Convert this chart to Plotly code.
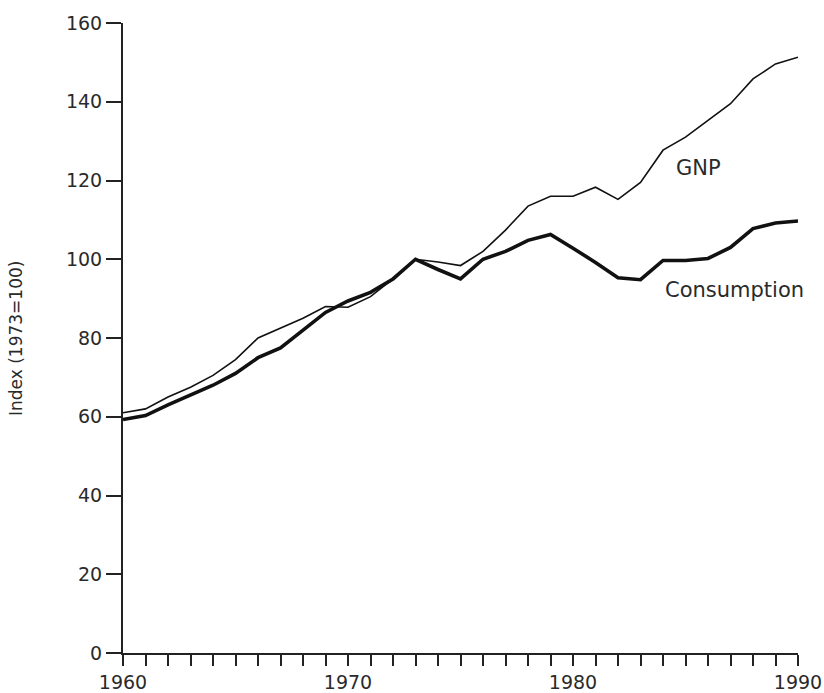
import plotly.graph_objects as go

years = list(range(1960, 1991))
gnp = [61, 62, 65, 67.5, 70.5, 74.5, 80, 82.5, 85, 88,
       87.8, 90.5, 95, 100, 99.3, 98.4, 102, 107.4, 113.5, 116,
       116, 118.3, 115.2, 119.5, 127.7, 131, 135.3, 139.5, 145.8, 149.6, 151.3]
consumption = [59.3, 60.3, 63, 65.5, 68, 71, 75, 77.5, 82, 86.5,
               89.4, 91.6, 95, 100, 97.4, 95, 100, 102, 104.8, 106.3,
               102.8, 99.2, 95.3, 94.8, 99.7, 99.7, 100.2, 103, 107.8, 109.2, 109.7]
y_ticks = [0, 20, 40, 60, 80, 100, 120, 140, 160]
x_label_years = [1960, 1970, 1980, 1990]
y_title = "Index (1973=100)"

FONT = "DejaVu Sans"
TXT = "#2a2a2a"

fig = go.Figure()
fig.add_trace(go.Scatter(x=years, y=gnp, mode="lines", name="GNP",
                         line=dict(color="#111111", width=1.6)))
fig.add_trace(go.Scatter(x=years, y=consumption, mode="lines", name="Consumption",
                         line=dict(color="#111111", width=3.6)))

fig.add_annotation(x=1985.56, y=123.1, text="GNP", showarrow=False,
                   font=dict(family=FONT, size=21, color=TXT))
fig.add_annotation(x=1987.16, y=92.1, text="Consumption", showarrow=False,
                   font=dict(family=FONT, size=21, color=TXT))
fig.add_annotation(xref="paper", yref="paper", x=(16 - 123) / 675, y=0.5, text=y_title,
                   xanchor="center", yanchor="middle",
                   textangle=-90, showarrow=False,
                   font=dict(family=FONT, size=17, color=TXT))

fig.update_layout(
    width=824, height=693,
    margin=dict(l=123, r=26, t=23, b=40, autoexpand=False),
    paper_bgcolor="white", plot_bgcolor="white",
    showlegend=False,
    font=dict(family=FONT, size=19, color=TXT),
)
fig.update_xaxes(
    range=[1960, 1990],
    tickvals=years,
    ticktext=[str(y) if y in x_label_years else "" for y in years],
    ticks="outside", ticklen=11, tickwidth=2, tickcolor="#222222",
    showline=True, linecolor="#222222", linewidth=2,
    showgrid=False, zeroline=False, automargin=False,
    tickfont=dict(family=FONT, size=19, color=TXT),
)
fig.update_yaxes(
    range=[0, 160],
    tickvals=y_ticks,
    ticks="outside", ticklen=15, tickwidth=2, tickcolor="#222222",
    showline=True, linecolor="#222222", linewidth=2,
    showgrid=False, zeroline=False, automargin=False,
    tickfont=dict(family=FONT, size=19, color=TXT),
)

fig.write_html("out.html",
               config={"displayModeBar": False},
               post_script="document.body.style.margin='0px';document.body.style.overflow='hidden';")
